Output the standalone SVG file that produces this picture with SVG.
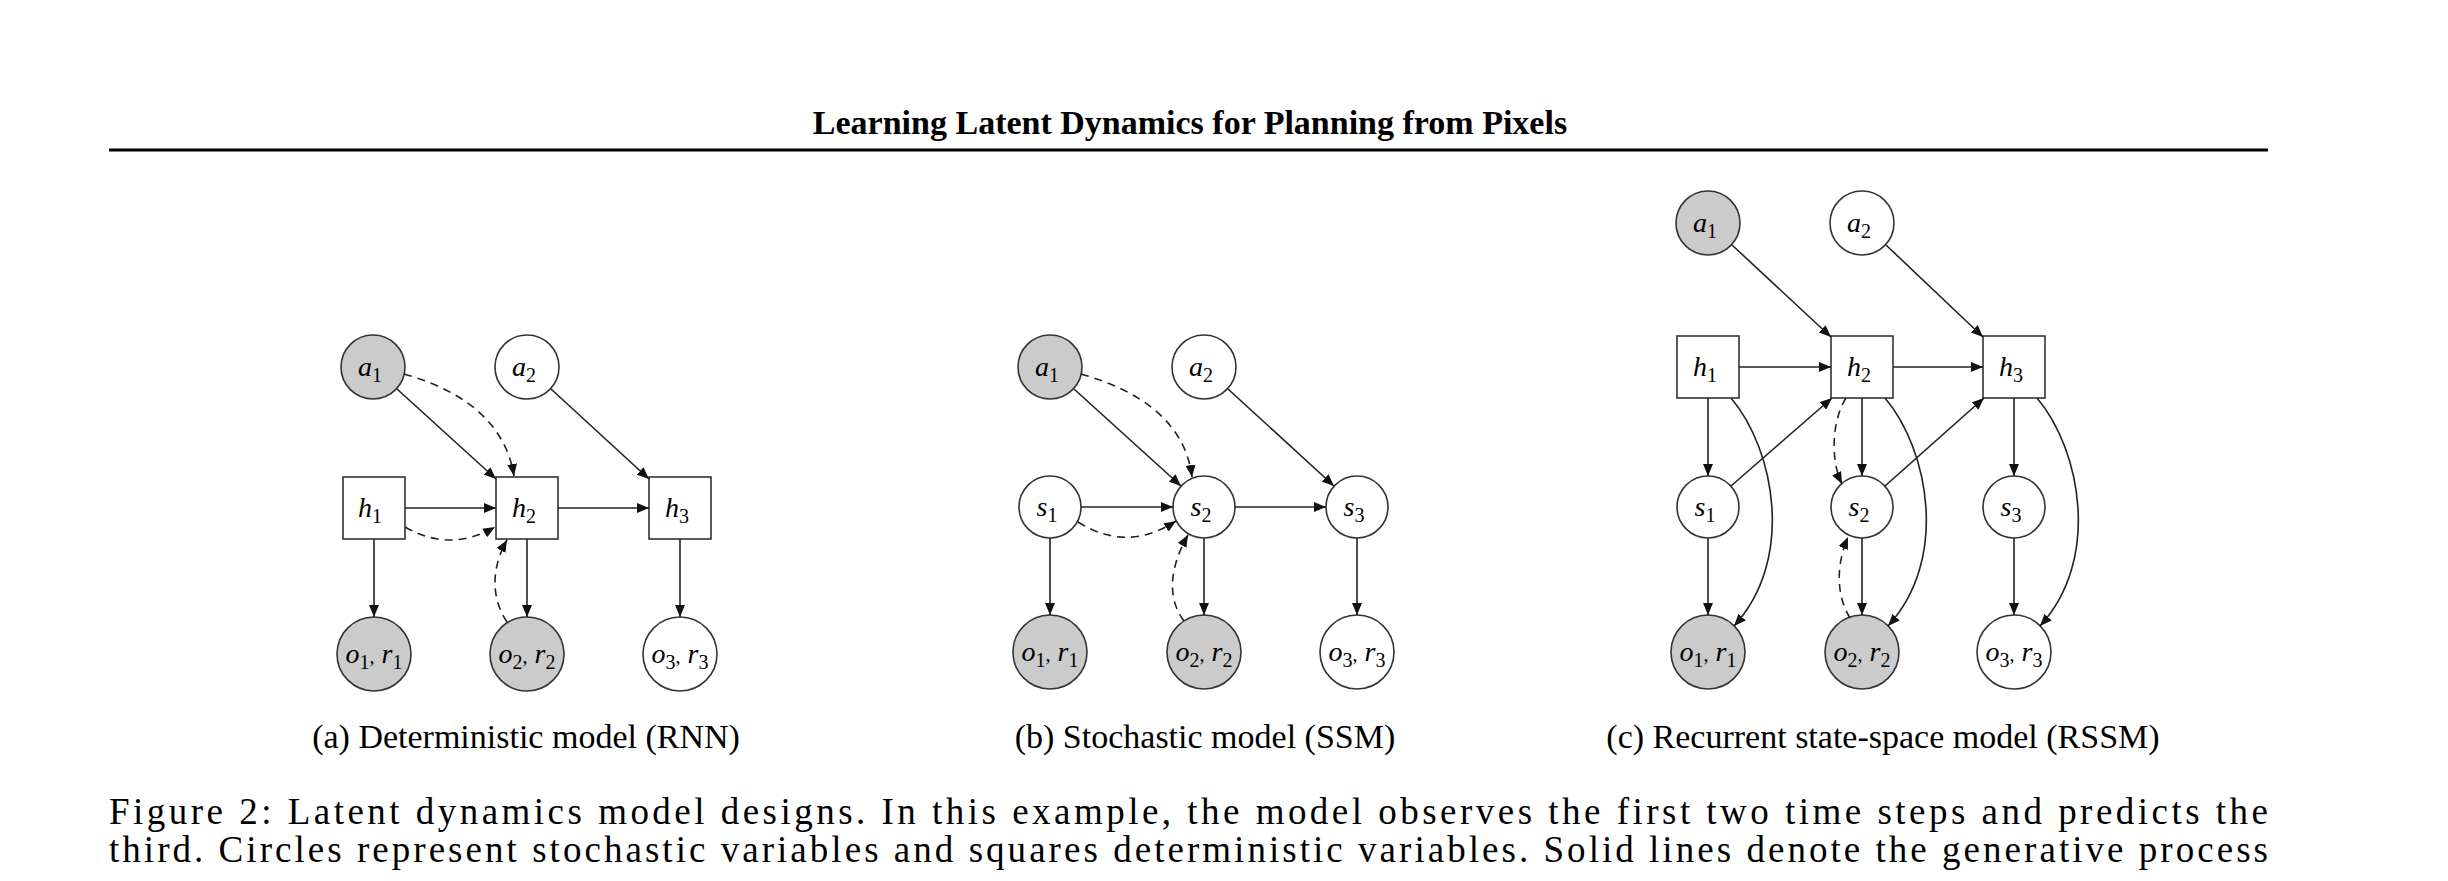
<svg xmlns="http://www.w3.org/2000/svg" width="2448" height="881" viewBox="0 0 2448 881">
<defs>
<marker id="ah" viewBox="0 0 12 10" refX="12" refY="5" markerWidth="12" markerHeight="10" markerUnits="userSpaceOnUse" orient="auto"><path d="M0,0 L12,5 L0,10 Z" fill="#111"/></marker>
<style>
.n{stroke:#333;stroke-width:1.6;fill:#fff}
.g{fill:#cbcbcb}
.e{stroke:#222;stroke-width:1.6;fill:none;marker-end:url(#ah)}
.d{stroke-dasharray:8,6}
.l{font-family:"Liberation Serif",serif;font-style:italic;font-size:28px;text-anchor:middle}
.l tspan{font-style:normal;font-size:20px}
.c{font-family:"Liberation Serif",serif;font-size:34px;text-anchor:middle}
</style>
</defs>
<rect width="2448" height="881" fill="#fff"/>
<text x="1190" y="134" font-family="Liberation Serif,serif" font-weight="bold" font-size="34" text-anchor="middle">Learning Latent Dynamics for Planning from Pixels</text>
<line x1="109" y1="150" x2="2268" y2="150" stroke="#000" stroke-width="3"/>

<g id="panel-a">
<g id="a-a1"><circle class="n g" cx="373" cy="367" r="32"/><text class="l" x="370" y="376">a<tspan dy="6">1</tspan></text></g>
<g id="a-a2"><circle class="n" cx="527" cy="367" r="32"/><text class="l" x="524" y="376">a<tspan dy="6">2</tspan></text></g>
<g id="a-h1"><rect class="n" x="343" y="477" width="62" height="62"/><text class="l" x="370" y="517">h<tspan dy="6">1</tspan></text></g>
<g id="a-h2"><rect class="n" x="496" y="477" width="62" height="62"/><text class="l" x="524" y="517">h<tspan dy="6">2</tspan></text></g>
<g id="a-h3"><rect class="n" x="649" y="477" width="62" height="62"/><text class="l" x="677" y="517">h<tspan dy="6">3</tspan></text></g>
<g id="a-o1"><circle class="n g" cx="374" cy="654" r="37"/><text class="l" x="374" y="663">o<tspan dy="6">1</tspan><tspan dy="-6" font-style="normal" font-size="28">,</tspan> r<tspan dy="6">1</tspan></text></g>
<g id="a-o2"><circle class="n g" cx="527" cy="654" r="37"/><text class="l" x="527" y="663">o<tspan dy="6">2</tspan><tspan dy="-6" font-size="28">,</tspan> r<tspan dy="6">2</tspan></text></g>
<g id="a-o3"><circle class="n" cx="680" cy="654" r="37"/><text class="l" x="680" y="663">o<tspan dy="6">3</tspan><tspan dy="-6" font-size="28">,</tspan> r<tspan dy="6">3</tspan></text></g>
<text class="c" x="526" y="748">(a) Deterministic model (RNN)</text>
</g>

<g id="panel-b">
<g id="b-a1"><circle class="n g" cx="1050" cy="367" r="32"/><text class="l" x="1047" y="376">a<tspan dy="6">1</tspan></text></g>
<g id="b-a2"><circle class="n" cx="1204" cy="367" r="32"/><text class="l" x="1201" y="376">a<tspan dy="6">2</tspan></text></g>
<g id="b-s1"><circle class="n" cx="1050" cy="507" r="31"/><text class="l" x="1047" y="516">s<tspan dy="6">1</tspan></text></g>
<g id="b-s2"><circle class="n" cx="1204" cy="507" r="31"/><text class="l" x="1201" y="516">s<tspan dy="6">2</tspan></text></g>
<g id="b-s3"><circle class="n" cx="1357" cy="507" r="31"/><text class="l" x="1354" y="516">s<tspan dy="6">3</tspan></text></g>
<g id="b-o1"><circle class="n g" cx="1050" cy="652" r="37"/><text class="l" x="1050" y="661">o<tspan dy="6">1</tspan><tspan dy="-6" font-size="28">,</tspan> r<tspan dy="6">1</tspan></text></g>
<g id="b-o2"><circle class="n g" cx="1204" cy="652" r="37"/><text class="l" x="1204" y="661">o<tspan dy="6">2</tspan><tspan dy="-6" font-size="28">,</tspan> r<tspan dy="6">2</tspan></text></g>
<g id="b-o3"><circle class="n" cx="1357" cy="652" r="37"/><text class="l" x="1357" y="661">o<tspan dy="6">3</tspan><tspan dy="-6" font-size="28">,</tspan> r<tspan dy="6">3</tspan></text></g>
<text class="c" x="1205" y="748">(b) Stochastic model (SSM)</text>
</g>

<g id="panel-c">
<g id="c-a1"><circle class="n g" cx="1708" cy="223" r="32"/><text class="l" x="1705" y="232">a<tspan dy="6">1</tspan></text></g>
<g id="c-a2"><circle class="n" cx="1862" cy="223" r="32"/><text class="l" x="1859" y="232">a<tspan dy="6">2</tspan></text></g>
<g id="c-h1"><rect class="n" x="1677" y="336" width="62" height="62"/><text class="l" x="1705" y="376">h<tspan dy="6">1</tspan></text></g>
<g id="c-h2"><rect class="n" x="1831" y="336" width="62" height="62"/><text class="l" x="1859" y="376">h<tspan dy="6">2</tspan></text></g>
<g id="c-h3"><rect class="n" x="1983" y="336" width="62" height="62"/><text class="l" x="2011" y="376">h<tspan dy="6">3</tspan></text></g>
<g id="c-s1"><circle class="n" cx="1708" cy="507" r="31"/><text class="l" x="1705" y="516">s<tspan dy="6">1</tspan></text></g>
<g id="c-s2"><circle class="n" cx="1862" cy="507" r="31"/><text class="l" x="1859" y="516">s<tspan dy="6">2</tspan></text></g>
<g id="c-s3"><circle class="n" cx="2014" cy="507" r="31"/><text class="l" x="2011" y="516">s<tspan dy="6">3</tspan></text></g>
<g id="c-o1"><circle class="n g" cx="1708" cy="652" r="37"/><text class="l" x="1708" y="661">o<tspan dy="6">1</tspan><tspan dy="-6" font-size="28">,</tspan> r<tspan dy="6">1</tspan></text></g>
<g id="c-o2"><circle class="n g" cx="1862" cy="652" r="37"/><text class="l" x="1862" y="661">o<tspan dy="6">2</tspan><tspan dy="-6" font-size="28">,</tspan> r<tspan dy="6">2</tspan></text></g>
<g id="c-o3"><circle class="n" cx="2014" cy="652" r="37"/><text class="l" x="2014" y="661">o<tspan dy="6">3</tspan><tspan dy="-6" font-size="28">,</tspan> r<tspan dy="6">3</tspan></text></g>
<text class="c" x="1883" y="748">(c) Recurrent state-space model (RSSM)</text>
</g>

<g id="connectors">
<path class="e" d="M397,389 L496,479"/>
<path class="e" d="M551,389 L649,479"/>
<path class="e d" d="M404,374 C460,390 505,420 514,476"/>
<path class="e" d="M405,508 L496,508"/>
<path class="e" d="M558,508 L649,508"/>
<path class="e d" d="M405,527 Q450,553 495,527"/>
<path class="e" d="M374,539 L374,617"/>
<path class="e" d="M527,539 L527,617"/>
<path class="e" d="M680,539 L680,617"/>
<path class="e d" d="M507,622 C492,600 490,570 507,540"/>

<path class="e" d="M1074,389 L1181,486"/>
<path class="e" d="M1228,389 L1334,486"/>
<path class="e d" d="M1081,374 C1137,390 1185,420 1192,477"/>
<path class="e" d="M1081,507 L1173,507"/>
<path class="e" d="M1235,507 L1326,507"/>
<path class="e d" d="M1078,522 Q1127,553 1176,521"/>
<path class="e" d="M1050,538 L1050,615"/>
<path class="e" d="M1204,538 L1204,615"/>
<path class="e" d="M1357,538 L1357,615"/>
<path class="e d" d="M1184,621 C1168,600 1168,570 1188,535"/>

<path class="e" d="M1732,245 L1831,337"/>
<path class="e" d="M1886,245 L1983,337"/>
<path class="e" d="M1739,367 L1831,367"/>
<path class="e" d="M1893,367 L1983,367"/>
<path class="e" d="M1708,398 L1708,476"/>
<path class="e" d="M1862,398 L1862,476"/>
<path class="e" d="M2014,398 L2014,476"/>
<path class="e" d="M1708,538 L1708,615"/>
<path class="e" d="M1862,538 L1862,615"/>
<path class="e" d="M2014,538 L2014,615"/>
<path class="e" d="M1731,398 C1775,450 1795,560 1734,626"/>
<path class="e" d="M1885,398 C1929,450 1949,560 1888,626"/>
<path class="e" d="M2037,398 C2081,450 2101,560 2040,626"/>
<path class="e" d="M1731,486 L1832,398"/>
<path class="e" d="M1885,486 L1984,398"/>
<path class="e d" d="M1846,398 C1832,420 1830,460 1842,484"/>
<path class="e d" d="M1850,618 C1836,595 1836,565 1848,537"/>
</g>

<text x="109" y="824" font-family="Liberation Serif,serif" font-size="37" textLength="2159" lengthAdjust="spacing">Figure 2: Latent dynamics model designs. In this example, the model observes the first two time steps and predicts the</text>
<text x="109" y="862" font-family="Liberation Serif,serif" font-size="37" textLength="2159" lengthAdjust="spacing">third. Circles represent stochastic variables and squares deterministic variables. Solid lines denote the generative process</text>
</svg>
